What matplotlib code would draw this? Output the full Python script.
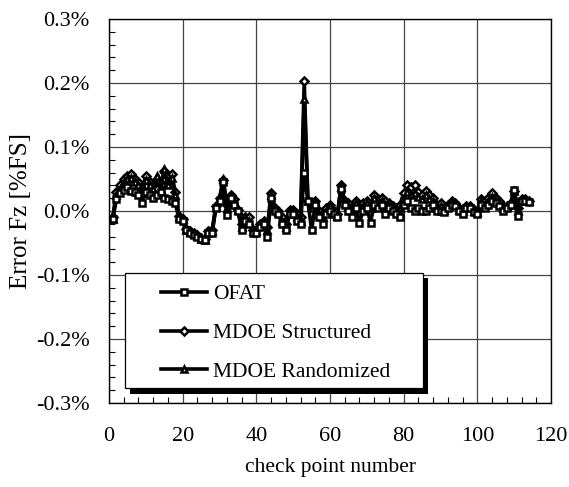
import matplotlib.pyplot as plt
from matplotlib.patches import Rectangle
from matplotlib.ticker import MultipleLocator, FuncFormatter
import matplotlib.patheffects as pe

plt.rcParams['font.family'] = ['Liberation Serif', 'DejaVu Serif']
plt.rcParams['font.size'] = 15.5

# check point numbers 1..114
points = list(range(1, 115))

# error in %FS
ofat = [-0.013, 0.018, 0.028, 0.033, 0.037, 0.032, 0.030, 0.025, 0.012, 0.030,
        0.025, 0.020, 0.025, 0.030, 0.020, 0.018, 0.015, 0.012, -0.012, -0.015,
        -0.030, -0.034, -0.037, -0.040, -0.043, -0.045, -0.035, -0.035, 0.005, 0.015,
        0.045, -0.006, 0.020, 0.010, 0.000, -0.030, -0.015, -0.020, -0.035, -0.035,
        -0.025, -0.020, -0.040, 0.020, 0.000, -0.005, -0.020, -0.030, -0.005, -0.005,
        -0.015, -0.020, 0.060, 0.015, -0.030, 0.010, -0.010, -0.020, -0.005, 0.000,
        -0.005, -0.010, 0.035, 0.010, 0.000, -0.010, 0.005, -0.018, 0.000, 0.005,
        -0.018, 0.010, 0.005, 0.010, -0.005, 0.005, 0.000, -0.005, -0.010, 0.010,
        0.015, 0.005, 0.000, 0.005, 0.000, 0.000, 0.005, 0.010, 0.000, 0.000,
        -0.002, 0.005, 0.010, 0.008, 0.000, -0.005, 0.005, 0.005, -0.002, -0.005,
        0.010, 0.005, 0.010, 0.015, 0.012, 0.008, 0.000, 0.005, 0.010, 0.033,
        -0.008, 0.015, 0.015, 0.014]

mdoe_structured = [-0.010, 0.030, 0.040, 0.050, 0.055, 0.058, 0.050, 0.045, 0.035, 0.055,
                   0.045, 0.040, 0.050, 0.040, 0.062, 0.045, 0.058, 0.030, -0.008, -0.012,
                   -0.028, -0.032, -0.035, -0.038, -0.042, -0.044, -0.032, -0.030, 0.008, 0.020,
                   0.048, 0.010, 0.025, 0.018, 0.002, -0.020, -0.010, -0.010, -0.030, -0.030,
                   -0.020, -0.015, -0.025, 0.028, 0.005, 0.000, -0.010, -0.020, 0.002, 0.002,
                   -0.005, -0.010, 0.203, 0.015, 0.012, 0.015, 0.000, -0.005, 0.005, 0.010,
                   0.000, -0.005, 0.040, 0.015, 0.012, 0.005, 0.015, 0.010, 0.012, 0.015,
                   0.010, 0.025, 0.018, 0.020, 0.015, 0.012, 0.008, 0.005, 0.010, 0.028,
                   0.040, 0.038, 0.040, 0.030, 0.025, 0.032, 0.025, 0.020, 0.010, 0.012,
                   0.005, 0.010, 0.015, 0.012, 0.005, 0.002, 0.008, 0.008, 0.002, 0.000,
                   0.018, 0.015, 0.020, 0.028, 0.020, 0.015, 0.008, 0.008, 0.012, 0.032,
                   0.005, 0.018, 0.018, 0.016]

mdoe_randomized = [-0.012, 0.025, 0.035, 0.045, 0.050, 0.052, 0.045, 0.040, 0.028, 0.048,
                   0.040, 0.035, 0.055, 0.035, 0.065, 0.040, 0.052, 0.025, -0.010, -0.013,
                   -0.029, -0.033, -0.036, -0.039, -0.043, -0.045, -0.033, -0.032, 0.006, 0.018,
                   0.050, 0.005, 0.022, 0.015, 0.001, -0.025, -0.012, -0.015, -0.032, -0.032,
                   -0.022, -0.018, -0.030, 0.025, 0.003, -0.002, -0.015, -0.025, 0.000, 0.000,
                   -0.010, -0.015, 0.175, 0.015, 0.005, 0.015, -0.005, -0.010, 0.000, 0.008,
                   -0.002, -0.008, 0.038, 0.012, 0.008, 0.000, 0.012, 0.005, 0.008, 0.012,
                   0.005, 0.020, 0.015, 0.015, 0.010, 0.010, 0.005, 0.002, 0.005, 0.020,
                   0.030, 0.025, 0.028, 0.022, 0.018, 0.025, 0.018, 0.015, 0.005, 0.008,
                   0.002, 0.008, 0.012, 0.010, 0.002, 0.000, 0.006, 0.006, 0.000, -0.002,
                   0.015, 0.010, 0.016, 0.022, 0.016, 0.012, 0.004, 0.006, 0.010, 0.031,
                   0.000, 0.016, 0.016, 0.015]

fig = plt.figure(figsize=(5.69, 4.87), dpi=100)
ax = fig.add_axes([0.1916, 0.1725, 0.7768, 0.7885])

style = dict(color='black', lw=2.6, markersize=5.0, markeredgewidth=1.8,
             markerfacecolor='white', markeredgecolor='black')
l1, = ax.plot(points, ofat, marker='s', zorder=4, **style)
l2, = ax.plot(points, mdoe_structured, marker='D', zorder=3, **dict(style, markersize=4.2))
l3, = ax.plot(points, mdoe_randomized, marker='^', zorder=3, **style)

ax.set_xlim(0, 120)
ax.set_ylim(-0.3, 0.3)
ax.xaxis.set_major_locator(MultipleLocator(20))
ax.xaxis.set_minor_locator(MultipleLocator(4))
ax.yaxis.set_major_locator(MultipleLocator(0.1))
ax.yaxis.set_minor_locator(MultipleLocator(0.02))
ax.yaxis.set_major_formatter(FuncFormatter(lambda v, p: f'{v:.1f}%'))
ax.tick_params(which='major', length=0, labelsize=16)
ax.tick_params(axis='x', which='major', pad=17)
ax.tick_params(axis='y', which='major', pad=14)
ax.tick_params(which='minor', direction='in', length=4, width=0.8,
               top=False, right=False)
ax.grid(True, which='major', color='#444444', lw=0.9)
for s in ax.spines.values():
    s.set_linewidth(1.0)

ax.set_xlabel('check point number', labelpad=9)
ax.set_ylabel('Error Fz [%FS]', labelpad=3, fontsize=18)

# legend box with solid drop shadow
box = Rectangle((0.036, 0.039), 0.674, 0.30, transform=ax.transAxes,
                facecolor='white', edgecolor='black', lw=0.9, zorder=5)
box.set_path_effects([pe.SimplePatchShadow(offset=(4, -4), shadow_rgbFace='black', alpha=1.0),
                      pe.Normal()])
ax.add_patch(box)
leg = ax.legend([l1, l2, l3], ['OFAT', 'MDOE Structured', 'MDOE Randomized'],
                loc='upper left', bbox_to_anchor=(0.118, 0.309), frameon=False,
                borderpad=0, borderaxespad=0, handlelength=2.15, handletextpad=0.25,
                labelspacing=0.87, fontsize=15.5)
leg.set_zorder(6)

fig.savefig('out.png', dpi=100)
